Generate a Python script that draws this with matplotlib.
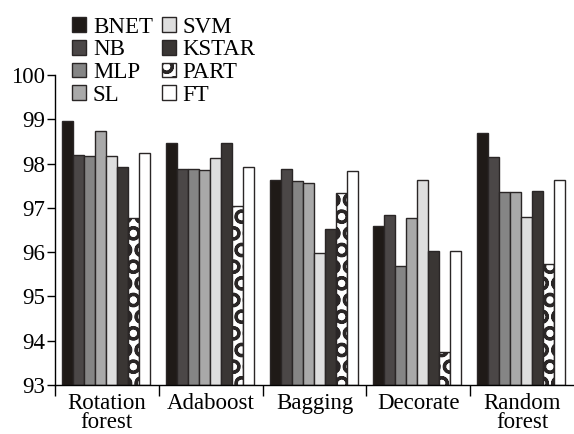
import numpy as np
import matplotlib.pyplot as plt

# ── Data ──────────────────────────────────────────────────────
groups = ['Rotation\nforest', 'Adaboost', 'Bagging', 'Decorate', 'Random\nforest']
methods = ['BNET', 'NB', 'MLP', 'SL', 'SVM', 'KSTAR', 'PART', 'FT']

bnet  = [98.97, 98.47, 97.64, 96.60, 98.70]
nb    = [98.20, 97.88, 97.87, 96.83, 98.14]
mlp   = [98.18, 97.88, 97.61, 95.69, 97.36]
sl    = [98.74, 97.86, 97.57, 96.78, 97.36]
svm   = [98.18, 98.13, 95.99, 97.64, 96.79]
kstar = [97.93, 98.46, 96.52, 96.03, 97.39]
part  = [96.78, 97.04, 97.34, 93.75, 95.73]
ft    = [98.23, 97.92, 97.84, 96.03, 97.64]

values = [bnet, nb, mlp, sl, svm, kstar, part, ft]

# ── Styles ────────────────────────────────────────────────────
fills = ['#1f1a17', '#4b4747', '#858585', '#a9a9a9', '#dedede', '#3a3634', 'white', 'white']
hatches = [None, None, None, None, None, None, 'O', None]

plt.rcParams['font.family'] = 'Liberation Serif'
plt.rcParams['hatch.linewidth'] = 2.2
fs = 16.5

fig = plt.figure(figsize=(5.74, 4.34), dpi=100)
ax = fig.add_axes([0.0958, 0.1129, 0.9042, 0.7143])

bar_w = 0.106
offset = 0.068
x0 = np.arange(len(groups))

for j, (name, vals) in enumerate(zip(methods, values)):
    left = x0 + offset + j * bar_w
    ax.bar(left, np.array(vals) - 93, bottom=93, width=bar_w, align='edge',
           color=fills[j], edgecolor='#2a2626', linewidth=1.0,
           hatch=hatches[j], label=name)

ax.set_ylim(93, 100)
ax.set_xlim(0, 5)
ax.set_yticks(np.arange(93, 101, 1))
ax.tick_params(axis='y', labelsize=fs, length=6, width=1, direction='out', pad=1)

# group labels centred, ticks at the group boundaries
ax.set_xticks(x0 + 0.5)
ax.set_xticklabels(groups, fontsize=fs, linespacing=0.88)
ax.tick_params(axis='x', which='major', length=0, pad=6)
ax.set_xticks(np.arange(0, 5), minor=True)
ax.tick_params(axis='x', which='minor', length=8, width=1, direction='out')

for s in ['top', 'right']:
    ax.spines[s].set_visible(False)
for s in ['left', 'bottom']:
    ax.spines[s].set_linewidth(1.0)

leg = fig.legend(loc='upper left', bbox_to_anchor=(0.102, 0.993), ncol=2,
                 fontsize=fs, frameon=False, handlelength=0.6, handleheight=0.6,
                 handletextpad=0.3, labelspacing=0.07, columnspacing=0.4,
                 borderpad=0.1)

fig.savefig('out.png', dpi=100)
